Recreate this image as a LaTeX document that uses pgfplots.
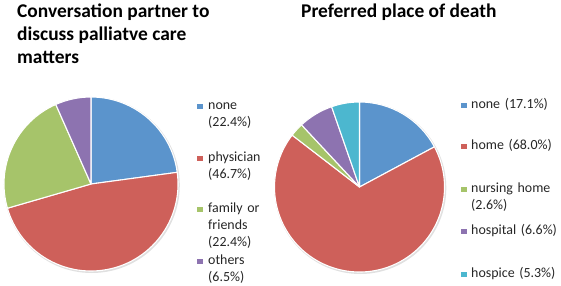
\documentclass[border=0pt]{standalone}
\usepackage{pgfplots}
\usepackage{pgfplotstable}
\pgfplotsset{compat=1.18}
\usepackage{fontspec}
\setmainfont{Carlito}
\definecolor{cblue}{RGB}{91,148,204}
\definecolor{cred}{RGB}{206,96,90}
\definecolor{cgreen}{RGB}{166,196,106}
\definecolor{cpurple}{RGB}{141,115,176}
\definecolor{ccyan}{RGB}{76,183,207}

\pgfplotstableread[col sep=comma]{
label,pct,col
none,22.4,cblue
physician,46.7,cred
family or friends,22.4,cgreen
others,6.5,cpurple
}\lefttbl
\pgfplotstableread[col sep=comma]{
label,pct,col
none,17.1,cblue
home,68.0,cred
nursing home,2.6,cgreen
hospital,6.6,cpurple
hospice,5.3,ccyan
}\righttbl

% draw pie slices of table #1 with radius #2 (axis units = bp)
\newcommand{\pieslices}[2]{%
  \pgfplotstablegetrowsof{#1}\pgfmathtruncatemacro\nlast{\pgfplotsretval-1}%
  \def\total{0}%
  \pgfplotsforeachungrouped \i in {0,...,\nlast}{%
    \pgfplotstablegetelem{\i}{pct}\of#1\let\v\pgfplotsretval
    \pgfmathsetmacro\total{\total+\v}}%
  \def\cum{0}%
  \pgfplotsforeachungrouped \i in {0,...,\nlast}{%
    \pgfplotstablegetelem{\i}{pct}\of#1\let\v\pgfplotsretval
    \pgfplotstablegetelem{\i}{col}\of#1\let\c\pgfplotsretval
    \pgfmathsetmacro\a{90-\cum/\total*360}%
    \pgfmathsetmacro\cum{\cum+\v}%
    \pgfmathsetmacro\b{90-\cum/\total*360}%
    \edef\temp{\noexpand\fill[\c, draw=white, line width=1.1pt, line join=round]
      (axis cs:0,0) -- ++(\a:#2bp) arc[start angle=\a, end angle=\b, radius=#2bp] -- cycle;}%
    \temp}%
}

\begin{document}
\begin{tikzpicture}[x=1bp,y=1bp]
\useasboundingbox (0,0) rectangle (561,285);

% titles
\node[anchor=base west, inner sep=0pt, align=left, font=\fontsize{19.5}{23}\selectfont\bfseries] at (17,222)
  {Conversation partner to\\discuss palliatve care\\matters};
\node[anchor=base west, inner sep=0pt, font=\fontsize{19.5}{23}\selectfont\bfseries] at (301,268)
  {Preferred place of death};

% left pie
\begin{axis}[at={(91bp,101bp)}, anchor=center, scale only axis, width=180bp, height=180bp,
  xmin=-90, xmax=90, ymin=-90, ymax=90, hide axis, clip=false]
  \fill[black!12] (axis cs:0.8,-1) circle[radius=88bp];
  \pieslices{\lefttbl}{87}
\end{axis}

% right pie
\begin{axis}[at={(359.5bp,98bp)}, anchor=center, scale only axis, width=180bp, height=180bp,
  xmin=-90, xmax=90, ymin=-90, ymax=90, hide axis, clip=false]
  \fill[black!12] (axis cs:0.8,-1) circle[radius=86bp];
  \pieslices{\righttbl}{85}
\end{axis}

% legends
\begin{scope}[every node/.style={anchor=base west, inner sep=0pt, text width=100bp, align=left,
    font=\fontsize{14}{17.5}\selectfont, text=black!85}]
  \fill[cblue]   (197,176) rectangle ++(5.5,5.5); \node at (208,176) {none\\(22.4\%)};
  \fill[cred]    (197,124) rectangle ++(5.5,5.5); \node at (208,124) {physician\\(46.7\%)};
  \fill[cgreen]  (197,73)  rectangle ++(5.5,5.5); \node at (208,73)  {family or\\friends\\(22.4\%)};
  \fill[cpurple] (197,21)  rectangle ++(5.5,5.5); \node at (208,21)  {others\\(6.5\%)};

  \fill[cblue]   (461,177) rectangle ++(5.5,5.5); \node at (471,177) {none (17.1\%)};
  \fill[cred]    (461,136) rectangle ++(5.5,5.5); \node at (471,136) {home (68.0\%)};
  \fill[cgreen]  (461,93)  rectangle ++(5.5,5.5); \node at (471,93)  {nursing home\\(2.6\%)};
  \fill[cpurple] (461,51)  rectangle ++(5.5,5.5); \node at (471,51)  {hospital (6.6\%)};
  \fill[ccyan]   (461,8)   rectangle ++(5.5,5.5); \node at (471,8)   {hospice (5.3\%)};
\end{scope}
\end{tikzpicture}
\end{document}
